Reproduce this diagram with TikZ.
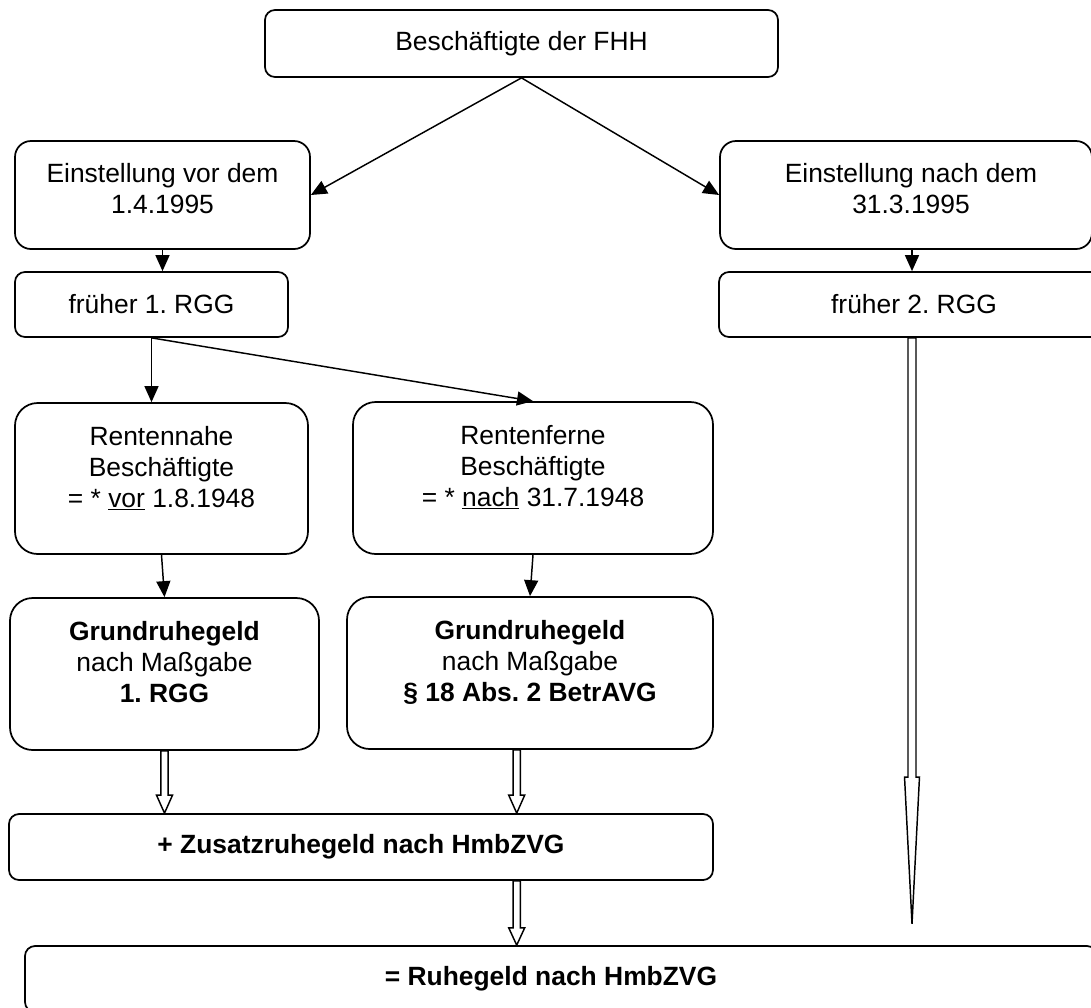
\documentclass[tikz,border=0pt]{standalone}
\usepackage{fontspec}
\setmainfont{Liberation Sans}
\usetikzlibrary{arrows.meta,calc}
\frenchspacing
\newcommand\liftup[2]{\raisebox{#1}[\height][\depth]{\begin{tabular}{@{}c@{}}#2\end{tabular}}}
\newcommand\blockarr[5]{%
  \draw[barr] let \p1=(#1), \p2=(#2) in
    (\x1-#3,\y1) -- (\x1-#3,\y2+#5) -- (\x1-#4,\y2+#5) -- (\x1,\y2)
    -- (\x1+#4,\y2+#5) -- (\x1+#3,\y2+#5) -- (\x1+#3,\y1) -- cycle;}
\begin{document}
\frenchspacing
\begin{tikzpicture}[x=0.75pt,y=-0.75pt,
  font=\fontsize{19.8}{23.2}\selectfont\frenchspacing,
  bx/.style={draw, line width=1.3pt, inner sep=0pt, rounded corners=#1},
  bx/.default=7.5pt,
  conn/.style={line width=1.1pt, -{Triangle[length=12pt,width=10.5pt]}},
  barr/.style={draw, line width=1.1pt, fill=white, line join=miter}]
\useasboundingbox (0,0) rectangle (1091,1007);

\node[bx, minimum width=384.75pt, minimum height=50.25pt] (top) at (521.5,43.5) {Beschäftigte der FHH};
\node[bx=12pt, minimum width=221.25pt, minimum height=81pt] (ev) at (162.5,195)
  {\liftup{2.6pt}{Einstellung vor dem\\1.4.1995}};
\node[bx=12pt, minimum width=279pt, minimum height=81pt] (en) at (906,195)
  {\liftup{2.6pt}{Einstellung nach dem\\31.3.1995}\hspace*{-7.5pt}};
\node[bx, minimum width=204.75pt, minimum height=48.75pt] (f1) at (151.5,304.5) {früher 1. RGG};
\node[bx, minimum width=289.5pt, minimum height=48.75pt] (f2) at (912,304.5) {\hspace*{3pt}früher 2. RGG};
\node[bx=17pt, minimum width=219.75pt, minimum height=113.25pt] (rn) at (161.5,478.5)
  {\liftup{6.4pt}{Rentennahe\\Beschäftigte\\= * \underline{vor} 1.8.1948}};
\node[bx=17pt, minimum width=270pt, minimum height=114pt] (rf) at (533,478)
  {\liftup{6.4pt}{Rentenferne\\Beschäftigte\\= * \underline{nach} 31.7.1948}};
\node[bx=17pt, minimum width=231.75pt, minimum height=114pt] (g1) at (164.5,674)
  {\liftup{6.4pt}{\textbf{Grundruhegeld}\\nach Maßgabe\\\textbf{1. RGG}}};
\node[bx=17pt, minimum width=274.5pt, minimum height=114pt] (g2) at (530,673)
  {\liftup{6.4pt}{\textbf{Grundruhegeld}\\nach Maßgabe\\\textbf{§ 18 Abs. 2 BetrAVG}}};
\node[bx, minimum width=528pt, minimum height=49.5pt] (zu) at (361,847)
  {\textbf{+ Zusatzruhegeld nach HmbZVG}};
\node[bx, minimum width=804pt, minimum height=49.5pt] (rh) at (561,979)
  {\hspace*{-15pt}\textbf{= Ruhegeld nach HmbZVG}};

\draw[conn] (top.south) -- (ev.east);
\draw[conn] (top.south) -- (en.west);
\draw[conn] (ev.south) -- (ev.south |- f1.north);
\draw[conn] (f2.north |- en.south) -- (f2.north);
\draw[conn] (f1.south) -- (f1.south |- rn.north);
\draw[conn] (f1.south) -- (rf.north);
\draw[conn] (rn.south) -- (g1.north);
\draw[conn] (rf.south) -- (g2.north);

\coordinate (b1e) at (g1.south |- zu.north);
\blockarr{g1.south}{b1e}{2.75pt}{6pt}{13.5pt}
\coordinate (b2s) at ($(g2.south)+(-13.3,0)$);
\coordinate (b2e) at (b2s |- zu.north);
\blockarr{b2s}{b2e}{2.75pt}{6pt}{13.5pt}
\coordinate (b3s) at (b2s |- zu.south);
\coordinate (b3e) at (b2s |- rh.north);
\blockarr{b3s}{b3e}{2.75pt}{6pt}{13pt}
\coordinate (b4e) at ($(f2.south)+(0,586)$);
\blockarr{f2.south}{b4e}{3pt}{5.6pt}{110pt}
\end{tikzpicture}
\end{document}
